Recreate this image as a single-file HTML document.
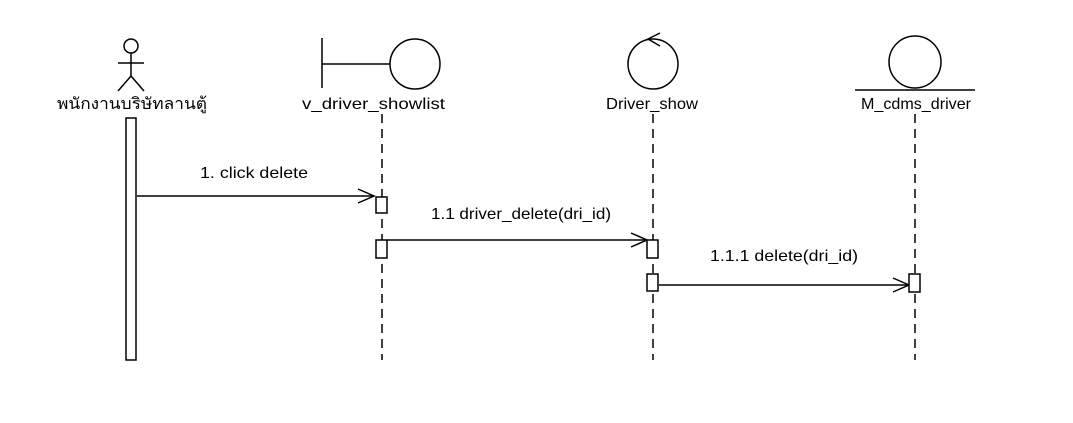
<!DOCTYPE html>
<html><head><meta charset="utf-8"><style>
body{margin:0;background:#fff}
svg text{font-family:"Liberation Sans","Noto Sans CJK SC",sans-serif;font-size:16px;fill:#000}
</style></head><body>
<svg width="1073" height="418" xmlns="http://www.w3.org/2000/svg">
<g stroke="#000" stroke-width="1.5" fill="none">
<circle cx="131" cy="46" r="7"/>
<line x1="131" y1="53" x2="131" y2="76"/>
<line x1="118" y1="63" x2="144" y2="63"/>
<line x1="131" y1="76" x2="118" y2="91"/>
<line x1="131" y1="76" x2="144" y2="91"/>
<rect x="126" y="118" width="10" height="242" fill="#fff"/>
<line x1="322" y1="38" x2="322" y2="88"/>
<line x1="322" y1="64" x2="390" y2="64"/>
<circle cx="415" cy="64" r="25"/>
<circle cx="653" cy="64" r="25"/>
<polyline points="660,33 648,39 660,46"/>
<circle cx="915" cy="62" r="26"/>
<line x1="855" y1="90" x2="975" y2="90"/>
<g stroke-dasharray="9,6">
<line x1="382" y1="114" x2="382" y2="360"/>
<line x1="653" y1="114" x2="653" y2="360"/>
<line x1="915" y1="114" x2="915" y2="360"/>
</g>
<line x1="137" y1="196" x2="374" y2="196"/>
<polyline points="358,189 374,196 358,203"/>
<line x1="387" y1="240" x2="647" y2="240"/>
<polyline points="631,233 647,240 631,247"/>
<line x1="659" y1="285" x2="909" y2="285"/>
<polyline points="893,278 909,285 893,292"/>
<rect x="376" y="197" width="11" height="16" fill="#fff"/>
<rect x="376" y="240" width="11" height="18" fill="#fff"/>
<rect x="647" y="240" width="11" height="18" fill="#fff"/>
<rect x="647" y="274" width="11" height="17" fill="#fff"/>
<rect x="909" y="274" width="11" height="18" fill="#fff"/>
</g>
<text x="57" y="109" textLength="150" lengthAdjust="spacingAndGlyphs">พนักงานบริษัทลานตู้</text>
<text x="302" y="109" textLength="143" lengthAdjust="spacingAndGlyphs">v_driver_showlist</text>
<text x="606" y="109" textLength="92" lengthAdjust="spacingAndGlyphs">Driver_show</text>
<text x="861" y="109" textLength="110" lengthAdjust="spacingAndGlyphs">M_cdms_driver</text>
<text x="200" y="178" textLength="108" lengthAdjust="spacingAndGlyphs">1. click delete</text>
<text x="431" y="219" textLength="180" lengthAdjust="spacingAndGlyphs">1.1 driver_delete(dri_id)</text>
<text x="710" y="261" textLength="148" lengthAdjust="spacingAndGlyphs">1.1.1 delete(dri_id)</text>
</svg>
</body></html>
